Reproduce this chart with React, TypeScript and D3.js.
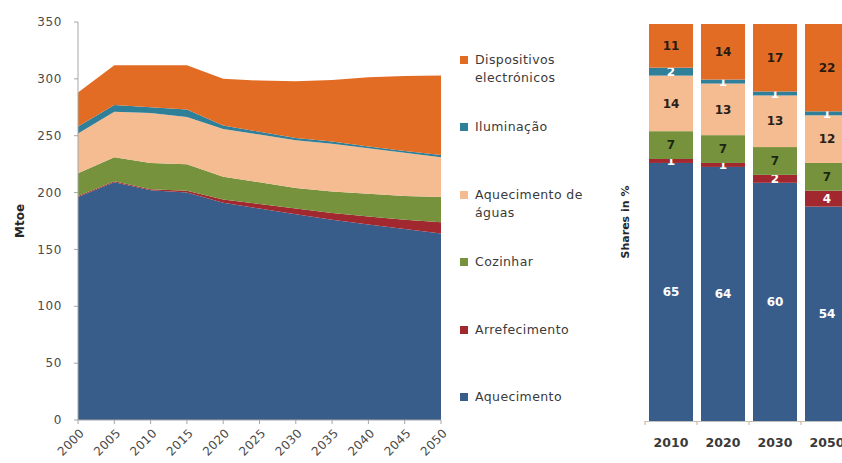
import * as d3 from "d3";
import { useEffect, useRef } from "react";

// Left chart: energy demand by end use (Mtoe)
const years = [2000, 2005, 2010, 2015, 2020, 2025, 2030, 2035, 2040, 2045, 2050];
const aquecimento = [196, 209, 202, 200, 191, 186, 181, 176, 172, 168, 164];
const arrefecimento = [1, 1, 1, 1.5, 3, 4, 5, 6, 7, 8, 10];
const cozinhar = [20, 21, 23, 23.5, 20, 19, 18, 19, 20, 21, 22];
const aguas = [35, 40, 44, 41.5, 42, 42, 42, 42, 40, 38, 35];
const iluminacao = [6, 6, 5, 6.5, 3, 2.5, 2, 2, 1.5, 1.5, 2];
const dispositivos = [30, 35, 37, 39, 41, 45, 50, 54, 61, 66, 70];
const yTicks = [0, 50, 100, 150, 200, 250, 300, 350];

// Right chart: shares in %
const barYears = ["2010", "2020", "2030", "2050"];
const shareAquecimento = [65, 64, 60, 54];
const shareArrefecimento = [1, 1, 2, 4];
const shareCozinhar = [7, 7, 7, 7];
const shareAguas = [14, 13, 13, 12];
const shareIluminacao = [2, 1, 1, 1];
const shareDispositivos = [11, 14, 17, 22];

const series = [
  { key: "aquecimento", name: "Aquecimento", color: "#385D8A", label: "#ffffff", values: aquecimento, shares: shareAquecimento },
  { key: "arrefecimento", name: "Arrefecimento", color: "#A0282E", label: "#ffffff", values: arrefecimento, shares: shareArrefecimento },
  { key: "cozinhar", name: "Cozinhar", color: "#76923C", label: "#1e2612", values: cozinhar, shares: shareCozinhar },
  { key: "aguas", name: "Aquecimento de|águas", color: "#F5BB91", label: "#2a2018", values: aguas, shares: shareAguas },
  { key: "iluminacao", name: "Iluminação", color: "#2F7F98", label: "#ffffff", values: iluminacao, shares: shareIluminacao },
  { key: "dispositivos", name: "Dispositivos|electrónicos", color: "#E36C25", label: "#2a1a10", values: dispositivos, shares: shareDispositivos },
];

const FONT = "'DejaVu Sans', Verdana, sans-serif";

export default function App() {
  const svgRef = useRef<SVGSVGElement>(null);
  const width = 842;
  const height = 463;

  useEffect(() => {
    if (!svgRef.current) return;
    const svg = d3.select(svgRef.current);
    svg.selectAll("*").remove();

    // ---------- Left stacked area ----------
    const x = d3.scaleLinear().domain([2000, 2050]).range([78, 441]);
    const y = d3.scaleLinear().domain([0, 350]).range([420, 22]);

    const table = years.map((yr, i) => {
      const row: Record<string, number> = { year: yr };
      series.forEach((s) => (row[s.key] = s.values[i]));
      return row;
    });
    const stacked = d3.stack<Record<string, number>>().keys(series.map((s) => s.key))(table);

    const area = d3
      .area<d3.SeriesPoint<Record<string, number>>>()
      .x((d) => x(d.data.year))
      .y0((d) => y(d[0]))
      .y1((d) => y(d[1]));

    svg
      .append("g")
      .selectAll("path")
      .data(stacked)
      .enter()
      .append("path")
      .attr("d", area)
      .style("fill", (_, i) => series[i].color);

    // y axis
    const axisColor = "#A6A6A6";
    svg.append("line").attr("x1", 78).attr("x2", 78).attr("y1", y(350)).attr("y2", y(0)).style("stroke", axisColor);
    yTicks.forEach((t) => {
      svg.append("line").attr("x1", 74).attr("x2", 78).attr("y1", y(t)).attr("y2", y(t)).style("stroke", axisColor);
      svg
        .append("text")
        .attr("x", 62)
        .attr("y", y(t))
        .attr("dy", "0.35em")
        .attr("text-anchor", "end")
        .style("font-family", FONT)
        .style("font-size", "12px")
        .style("letter-spacing", "0.6px")
        .style("fill", "#4a4a4a")
        .text(t);
    });

    // x axis
    svg.append("line").attr("x1", x(2000)).attr("x2", x(2050)).attr("y1", 420).attr("y2", 420).style("stroke", axisColor);
    years.forEach((yr) => {
      svg.append("line").attr("x1", x(yr)).attr("x2", x(yr)).attr("y1", 420).attr("y2", 424).style("stroke", axisColor);
      svg
        .append("text")
        .attr("transform", `translate(${x(yr) + 4},${431}) rotate(-45)`)
        .attr("text-anchor", "end")
        .attr("dy", "0.35em")
        .style("font-family", FONT)
        .style("font-size", "12px")
        .style("letter-spacing", "0.3px")
        .style("fill", "#4a4a4a")
        .text(yr);
    });

    svg
      .append("text")
      .attr("transform", `translate(20,221) rotate(-90)`)
      .attr("text-anchor", "middle")
      .attr("dy", "0.35em")
      .style("font-family", FONT)
      .style("font-size", "12px")
      .style("font-weight", "bold")
      .style("fill", "#262626")
      .text("Mtoe");

    // ---------- Legend ----------
    const legendY = [397, 330, 262, 195, 127, 60];
    series.forEach((s, i) => {
      const g = svg.append("g").attr("transform", `translate(460,${legendY[i]})`);
      g.append("rect").attr("x", 0).attr("y", -4).attr("width", 8).attr("height", 8).style("fill", s.color);
      s.name.split("|").forEach((line, j) => {
        g.append("text")
          .attr("x", 15)
          .attr("y", j * 18)
          .attr("dy", "0.35em")
          .style("font-family", FONT)
          .style("font-size", "12.5px")
          .style("letter-spacing", "0.4px")
          .style("fill", "#3a3a3a")
          .text(line);
      });
    });

    // ---------- Right stacked bars (shares) ----------
    const xb = d3.scaleBand<string>().domain(barYears).range([645, 853]).paddingInner(0.154).paddingOuter(0.077);
    const yb = d3.scaleLinear().domain([0, 100]).range([421, 24]);

    const shareTable = barYears.map((yr, i) => {
      const row: Record<string, number | string> = { year: yr };
      series.forEach((s) => (row[s.key] = s.shares[i]));
      return row;
    });
    const shareStack = d3
      .stack<Record<string, number | string>>()
      .keys(series.map((s) => s.key))(shareTable as any);

    shareStack.forEach((layer, li) => {
      const g = svg.append("g");
      g.selectAll("rect")
        .data(layer)
        .enter()
        .append("rect")
        .attr("x", (d) => xb(d.data.year as string)!)
        .attr("width", xb.bandwidth())
        .attr("y", (d) => yb(d[1]))
        .attr("height", (d) => yb(d[0]) - yb(d[1]))
        .style("fill", series[li].color);
      g.selectAll("text")
        .data(layer)
        .enter()
        .append("text")
        .attr("x", (d) => xb(d.data.year as string)! + xb.bandwidth() / 2)
        .attr("y", (d) => (yb(d[0]) + yb(d[1])) / 2)
        .attr("dy", "0.35em")
        .attr("text-anchor", "middle")
        .style("font-family", FONT)
        .style("font-size", "12px")
        .style("font-weight", "bold")
        .style("fill", series[li].label)
        .text((d) => d[1] - d[0]);
    });

    // bar axis
    svg.append("line").attr("x1", 645).attr("x2", 842).attr("y1", 421.5).attr("y2", 421.5).style("stroke", "#BFBFBF");
    barYears.forEach((yr) => {
      const bx = xb(yr)! - (xb.step() - xb.bandwidth()) / 2;
      svg.append("line").attr("x1", bx).attr("x2", bx).attr("y1", 421).attr("y2", 425).style("stroke", "#D8A88A");
      svg
        .append("text")
        .attr("x", xb(yr)! + xb.bandwidth() / 2)
        .attr("y", 443)
        .attr("dy", "0.35em")
        .attr("text-anchor", "middle")
        .style("font-family", FONT)
        .style("font-size", "12.5px")
        .style("font-weight", "bold")
        .style("fill", "#3a3a3a")
        .text(yr);
    });

    svg
      .append("text")
      .attr("transform", `translate(625,222) rotate(-90)`)
      .attr("text-anchor", "middle")
      .attr("dy", "0.35em")
      .style("font-family", FONT)
      .style("font-size", "11px")
      .style("font-weight", "bold")
      .style("fill", "#262626")
      .text("Shares in %");
  }, []);

  return (
    <svg
      ref={svgRef}
      width={width}
      height={height}
      style={{ position: "absolute", left: 0, top: 0, background: "#ffffff" }}
    />
  );
}
